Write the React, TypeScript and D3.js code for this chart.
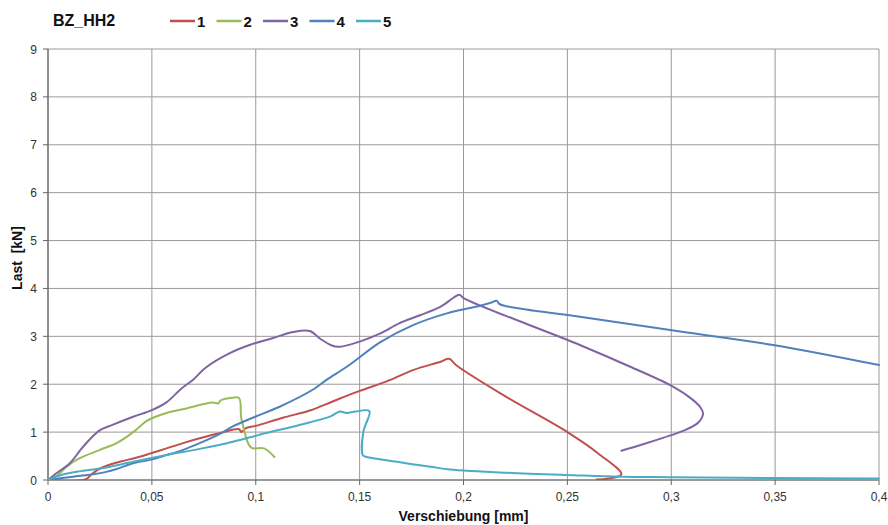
import React from "react";
import * as d3 from "d3";

const title = "BZ_HH2";
const seriesNames = ["1", "2", "3", "4", "5"];
const seriesColors = ["#c0504d", "#9bbb59", "#8064a2", "#4f81bd", "#4bacc6"];
const xTicks = [0, 0.05, 0.1, 0.15, 0.2, 0.25, 0.3, 0.35, 0.4];
const xTickLabels = ["0", "0,05", "0,1", "0,15", "0,2", "0,25", "0,3", "0,35", "0,4"];
const yTicks = [0, 1, 2, 3, 4, 5, 6, 7, 8, 9];
const xLabel = "Verschiebung [mm]";
const yLabel = "Last  [kN]";

const series1: [number, number][] = [
  [0, 0], [0.018, 0.01], [0.021, 0.12], [0.025, 0.24], [0.0345, 0.38], [0.042, 0.46], [0.049, 0.55],
  [0.057, 0.66], [0.065, 0.77], [0.073, 0.87], [0.083, 0.98], [0.092, 1.06], [0.093, 1.0],
  [0.095, 1.08], [0.1, 1.13], [0.113, 1.3], [0.126, 1.45], [0.137, 1.64], [0.15, 1.86],
  [0.163, 2.06], [0.176, 2.3], [0.189, 2.47], [0.193, 2.53], [0.197, 2.38], [0.22, 1.75],
  [0.25, 1.0], [0.265, 0.55], [0.276, 0.12], [0.27, 0.03], [0.264, 0.01],
];
const series2: [number, number][] = [
  [0, 0], [0.004, 0.08], [0.009, 0.28], [0.015, 0.45], [0.025, 0.63], [0.033, 0.77], [0.041, 1.0],
  [0.047, 1.22], [0.05, 1.29], [0.057, 1.4], [0.067, 1.5], [0.079, 1.62], [0.082, 1.6],
  [0.083, 1.66], [0.089, 1.72], [0.092, 1.71], [0.093, 1.3], [0.095, 0.95], [0.096, 0.8],
  [0.098, 0.67], [0.104, 0.66], [0.109, 0.48],
];
const series3: [number, number][] = [
  [0, 0], [0.004, 0.14], [0.0105, 0.35], [0.017, 0.7], [0.025, 1.04], [0.031, 1.15], [0.041, 1.32],
  [0.05, 1.46], [0.057, 1.62], [0.064, 1.9], [0.07, 2.1], [0.076, 2.35], [0.0875, 2.65],
  [0.097, 2.82], [0.108, 2.96], [0.118, 3.09], [0.126, 3.11], [0.131, 2.95], [0.136, 2.82],
  [0.14, 2.78], [0.15, 2.89], [0.16, 3.06], [0.169, 3.27], [0.179, 3.44], [0.189, 3.62],
  [0.195, 3.8], [0.198, 3.87], [0.2, 3.8], [0.256, 2.82], [0.28, 2.37], [0.2995, 1.98],
  [0.309, 1.72], [0.314, 1.52], [0.3153, 1.39], [0.313, 1.2], [0.306, 1.03], [0.296, 0.88],
  [0.286, 0.74], [0.276, 0.61],
];
const series4: [number, number][] = [
  [0, 0], [0.012, 0.07], [0.02, 0.11], [0.028, 0.17], [0.033, 0.23], [0.041, 0.35], [0.049, 0.42],
  [0.057, 0.52], [0.065, 0.63], [0.073, 0.77], [0.083, 0.97], [0.089, 1.12], [0.0997, 1.32],
  [0.1115, 1.53], [0.128, 1.9], [0.134, 2.09], [0.144, 2.37], [0.16, 2.88], [0.176, 3.24],
  [0.192, 3.48], [0.208, 3.64], [0.213, 3.7], [0.216, 3.74], [0.2175, 3.67], [0.256, 3.41],
  [0.2995, 3.13], [0.349, 2.82], [0.4, 2.4],
];
const series5: [number, number][] = [
  [0, 0], [0.006, 0.1], [0.015, 0.18], [0.025, 0.24], [0.041, 0.38], [0.057, 0.52], [0.073, 0.65],
  [0.089, 0.8], [0.105, 0.98], [0.121, 1.15], [0.136, 1.33], [0.1405, 1.43], [0.1437, 1.4],
  [0.148, 1.43], [0.1547, 1.44], [0.1518, 1.01], [0.1515, 0.52], [0.1526, 0.49], [0.168, 0.38],
  [0.185, 0.27], [0.1935, 0.22], [0.221, 0.15], [0.253, 0.1], [0.276, 0.07], [0.3, 0.06],
  [0.349, 0.04], [0.4, 0.03],
];
const allSeries = [series1, series2, series3, series4, series5];

const W = 888;
const H = 525;
const margin = { left: 48, top: 49, right: 9, bottom: 45 };

export default function App() {
  const x = d3.scaleLinear().domain([0, 0.4]).range([margin.left, W - margin.right]);
  const y = d3.scaleLinear().domain([0, 9]).range([H - margin.bottom, margin.top]);
  const line = d3
    .line<[number, number]>()
    .x((d) => x(d[0]))
    .y((d) => y(d[1]))
    .curve(d3.curveCatmullRom.alpha(0.5));
  const font = "'Liberation Sans', Arial, sans-serif";
  const x0 = x(0), x1 = x(0.4), y0 = y(0), y1 = y(9);

  return (
    <svg
      width={W}
      height={H}
      style={{ position: "absolute", left: 0, top: 0, background: "#fff" }}
      fontFamily={font}
    >
      <defs>
        <clipPath id="plotclip">
          <rect x={x0 - 2} y={y1 - 2} width={x1 - x0 + 4} height={y0 - y1 + 2} />
        </clipPath>
      </defs>
      <rect x={0} y={0} width={W} height={H} fill="#fff" />
      {yTicks.map((t) => (
        <line key={"gy" + t} x1={x0} x2={x1} y1={y(t)} y2={y(t)} stroke="#9a9a9a" strokeWidth={1} />
      ))}
      {xTicks.map((t) => (
        <line key={"gx" + t} x1={x(t)} x2={x(t)} y1={y0} y2={y1} stroke="#9a9a9a" strokeWidth={1} />
      ))}
      <line x1={x0} x2={x0} y1={y0} y2={y1} stroke="#666" strokeWidth={1.2} />
      <line x1={x0} x2={x1} y1={y0} y2={y0} stroke="#666" strokeWidth={1.2} />
      {yTicks.map((t) => (
        <g key={"ty" + t}>
          <line x1={x0 - 5} x2={x0} y1={y(t)} y2={y(t)} stroke="#666" />
          <text x={x0 - 11} y={y(t) + 4.5} textAnchor="end" fontSize={12} fill="#333">
            {t}
          </text>
        </g>
      ))}
      {xTicks.map((t, i) => (
        <g key={"tx" + t}>
          <line x1={x(t)} x2={x(t)} y1={y0} y2={y0 + 5} stroke="#666" />
          <text x={x(t)} y={y0 + 21} textAnchor="middle" fontSize={12} fill="#333">
            {xTickLabels[i]}
          </text>
        </g>
      ))}
      <g clipPath="url(#plotclip)">
        {allSeries.map((s, i) => (
          <path
            key={"s" + i}
            d={line(s) || ""}
            fill="none"
            stroke={seriesColors[i]}
            strokeWidth={2}
            strokeLinejoin="round"
            strokeLinecap="round"
          />
        ))}
      </g>
      <text x={53} y={26} fontSize={16} fontWeight="bold" fill="#111">
        {title}
      </text>
      {seriesNames.map((n, i) => {
        const lx = 170 + i * 46.5;
        return (
          <g key={"lg" + n}>
            <line x1={lx} x2={lx + 25} y1={21} y2={21} stroke={seriesColors[i]} strokeWidth={2.5} />
            <text x={lx + 27} y={26.5} fontSize={15} fontWeight="bold" fill="#111">
              {n}
            </text>
          </g>
        );
      })}
      <text x={(x0 + x1) / 2} y={521} textAnchor="middle" fontSize={14} fontWeight="bold" fill="#111">
        {xLabel}
      </text>
      <text
        transform={`translate(22, ${258}) rotate(-90)`}
        textAnchor="middle"
        fontSize={14}
        fontWeight="bold"
        fill="#111"
        style={{ whiteSpace: "pre" }}
      >
        {yLabel}
      </text>
    </svg>
  );
}
